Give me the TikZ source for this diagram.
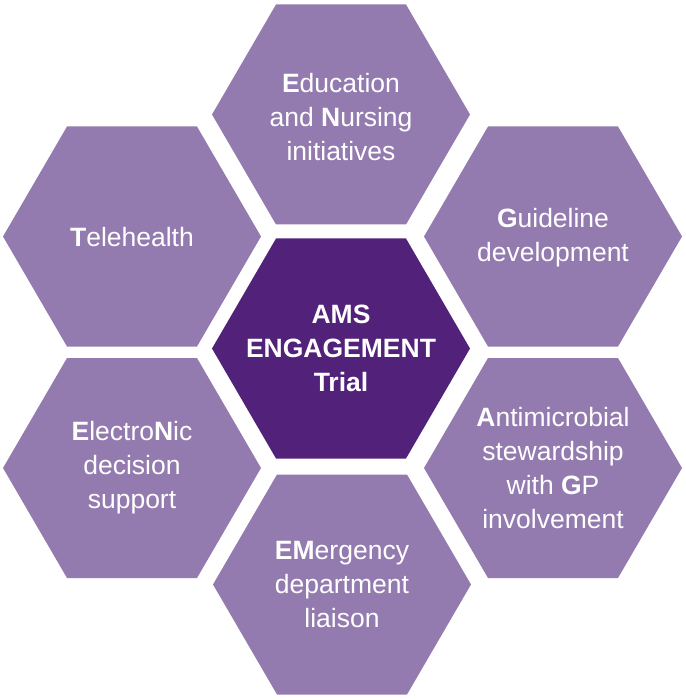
\documentclass[tikz,border=0pt]{standalone}
\usepackage{fontspec}
\setmainfont{Liberation Sans}
\definecolor{hexlight}{HTML}{947BAF}
\definecolor{hexdark}{HTML}{52227A}
\tikzset{
  hexlabel/.style={inner sep=0pt, outer sep=0pt, text=white, align=center,
    font=\fontsize{26.5}{34}\selectfont},
  corelabel/.style={hexlabel, font=\fontsize{26.5}{34}\selectfont\bfseries}
}
\newcommand\hexat[3]{%
  \fill[#3] (#1-129,#2) -- (#1-65,#2-110) -- (#1+65,#2-110) -- (#1+129,#2)
    -- (#1+65,#2+110) -- (#1-65,#2+110) -- cycle;}
\begin{document}
\begin{tikzpicture}[x=1pt,y=-1pt]
\useasboundingbox (0,0) rectangle (685,700);
\hexat{341}{348.5}{hexdark}
\hexat{341}{114.5}{hexlight}
\hexat{132}{236.5}{hexlight}
\hexat{553}{236.5}{hexlight}
\hexat{132}{468}{hexlight}
\hexat{553}{468}{hexlight}
\hexat{342}{584.5}{hexlight}
\node[corelabel] (core) at (341,348.5) {AMS\\ENGAGEMENT\\Trial};
\node[hexlabel] (edu) at (341,117.5) {\textbf{E}ducation\\and \textbf{N}ursing\\initiatives};
\node[hexlabel] (tele) at (132,237) {\textbf{T}elehealth};
\node[hexlabel] (guide) at (553,237.5) {\textbf{G}uideline\\development};
\node[hexlabel] (elec) at (132,468) {\textbf{E}lectro\textbf{N}ic\\decision\\support};
\node[hexlabel] (anti) at (553,468) {\textbf{A}ntimicrobial\\stewardship\\with \textbf{G}P\\involvement};
\node[hexlabel] (emer) at (342,585) {\textbf{EM}ergency\\department\\liaison};
\end{tikzpicture}
\end{document}
